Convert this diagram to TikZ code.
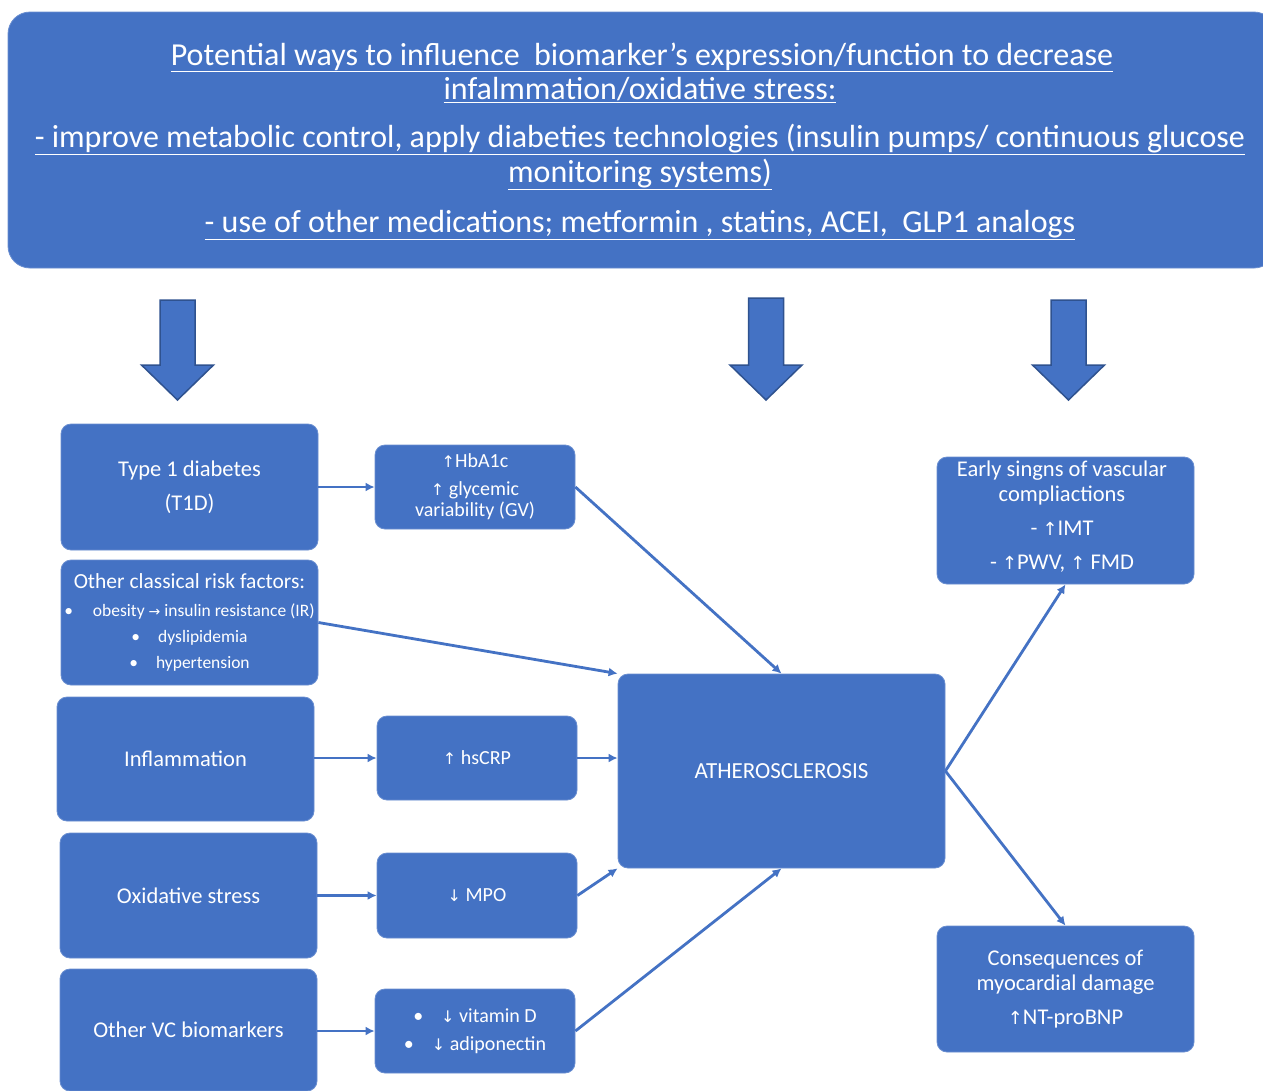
\documentclass[tikz,border=0pt]{standalone}
\usepackage{fontspec}
\setmainfont{Carlito}
\newfontfamily\arrfont{DejaVu Sans}
\usetikzlibrary{arrows.meta}
\definecolor{ofblue}{HTML}{4472C4}
\definecolor{ofdark}{HTML}{2F528F}
\newcommand{\upar}{{\arrfont\scalebox{0.8}{↑}}}
\newcommand{\dnar}{{\arrfont\scalebox{0.8}{↓}}}
\newcommand{\rar}{{\arrfont\scalebox{0.8}{→}}}
\begin{document}
\begin{tikzpicture}[x=1pt,y=-1pt,
  box/.style={rectangle, rounded corners=10pt, fill=ofblue, draw=ofblue!80!white, line width=0.8pt, text=white, align=center, inner sep=0pt},
  bigtxt/.style={font=\fontsize{22.5}{26}\selectfont},
  midtxt/.style={font=\fontsize{20}{24}\selectfont},
  bantxt/.style={text=white, inner sep=0pt, anchor=base, font=\fontsize{32}{36}\selectfont},
  conn/.style={draw=ofblue, line width=2.8pt, -{Latex[length=9pt,width=9pt]}},
  blockarrow/.style={fill=ofblue, draw=ofdark, line width=1.5pt, line join=miter}
]
\clip (0,0) rectangle (1263,1090);
\fill[white] (0,0) rectangle (1263,1090);

% banner
\node[box, rounded corners=22pt, minimum width=1268pt, minimum height=256pt] (banner) at (642,140) {};
\node[bantxt] (b1) at (642,65) {\underline{Potential ways to influence\ \ biomarker’s expression/function to decrease}};
\node[bantxt] (b2) at (640,99) {\underline{infalmmation/oxidative stress:}};
\node[bantxt] (b3) at (640,147) {\underline{- improve metabolic control, apply diabeties technologies (insulin pumps/ continuous glucose}};
\node[bantxt] (b4) at (640,182) {\underline{monitoring systems)}};
\node[bantxt] (b5) at (640,232) {\underline{- use of other medications; metformin , statins, ACEI,\ \ GLP1 analogs}};

% block arrows
\foreach \cx/\top in {177.5/300, 766/298, 1068.5/300}{
  \filldraw[blockarrow] (\cx-17.5,\top) -- (\cx+17.5,\top) -- (\cx+17.5,365) -- (\cx+36,365)
    -- (\cx,400) -- (\cx-36,365) -- (\cx-17.5,365) -- cycle;
}

% left column
\node[box, bigtxt, minimum width=257pt, minimum height=126pt] (t1d) at (189.5,487) {Type 1 diabetes\\[8pt](T1D)};
\node[box, minimum width=257pt, minimum height=125pt, font=\fontsize{17.5}{26}\selectfont] (risk) at (189.5,622.5)
  {{\fontsize{21.5}{26}\selectfont Other classical risk factors:}\\[2pt]
   •\hspace{20pt}obesity \rar\ insulin resistance (IR)\\
   •\hspace{18pt}dyslipidemia\\
   •\hspace{18pt}hypertension};
\node[box, bigtxt, minimum width=257pt, minimum height=124pt] (infl) at (185.5,759) {Inflammation};
\node[box, bigtxt, minimum width=257pt, minimum height=125pt] (oxid) at (188.5,895.5) {Oxidative stress};
\node[box, bigtxt, minimum width=257pt, minimum height=122pt] (vc) at (188.5,1030) {Other VC biomarkers};

% middle column
\node[box, midtxt, minimum width=200pt, minimum height=84pt] (hba) at (475,487) {\upar HbA1c\\[4pt]\upar\ glycemic\\[-3pt]variability (GV)};
\node[box, midtxt, minimum width=200pt, minimum height=84pt] (crp) at (477,758) {\upar\ hsCRP};
\node[box, midtxt, minimum width=200pt, minimum height=85pt] (mpo) at (477,895.5) {\dnar\ MPO};
\node[box, midtxt, minimum width=200pt, minimum height=84pt] (vitd) at (475,1031)
  {•\hspace{18pt}\dnar\ vitamin D\\[4pt]•\hspace{18pt}\dnar\ adiponectin};

% atherosclerosis
\node[box, font=\fontsize{23}{26}\selectfont, minimum width=327pt, minimum height=194pt] (ath) at (781.5,771) {ATHEROSCLEROSIS};

% right column
\node[box, minimum width=257pt, minimum height=127pt] (early) at (1065.5,520.5) {};
\node[bigtxt, text=white, align=center, inner sep=0pt] (earlyt) at (1062,517)
  {Early singns of vascular\\[-1pt]compliactions\\[8pt]- \upar IMT\\[8pt]- \upar PWV, \upar\ FMD};
\node[box, bigtxt, minimum width=257pt, minimum height=126pt] (cons) at (1065.5,989)
  {Consequences of\\[-1pt]myocardial damage\\[8pt]\upar NT-proBNP};

% connectors
\draw[conn] (t1d.east) -- (hba.west);
\draw[conn] (hba.east) -- (ath.north);
\draw[conn] (risk.east) -- (ath.north west);
\draw[conn] (infl.east |- crp.west) -- (crp.west);
\draw[conn] (crp.east) -- (crp.east -| ath.west);
\draw[conn] (oxid.east) -- (mpo.west);
\draw[conn] (mpo.east) -- (ath.south west);
\draw[conn] (vc.east |- vitd.west) -- (vitd.west);
\draw[conn] (vitd.east) -- (ath.south);
\draw[conn] (ath.east) -- (early.south);
\draw[conn] (ath.east) -- (cons.north);
\end{tikzpicture}
\end{document}
